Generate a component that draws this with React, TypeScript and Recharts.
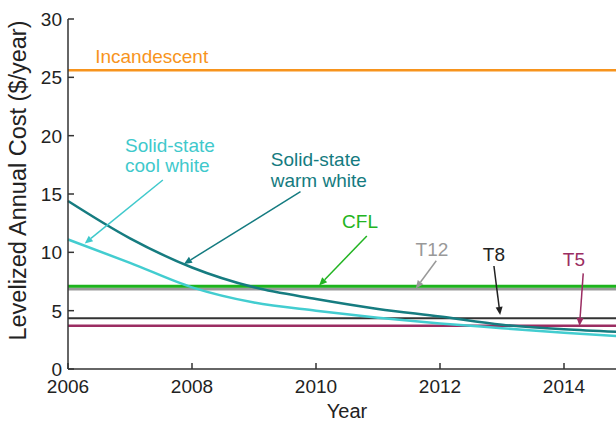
import { LineChart, Line, XAxis, YAxis, ReferenceLine, ReferenceDot } from 'recharts';

const years = [2006, 2007, 2008, 2009, 2010, 2011, 2012, 2013, 2014, 2015];
const incandescent = [25.6, 25.6, 25.6, 25.6, 25.6, 25.6, 25.6, 25.6, 25.6, 25.6];
const cfl = [7.1, 7.1, 7.1, 7.1, 7.1, 7.1, 7.1, 7.1, 7.1, 7.1];
const t12 = [6.85, 6.85, 6.85, 6.85, 6.85, 6.85, 6.85, 6.85, 6.85, 6.85];
const t8 = [4.35, 4.35, 4.35, 4.35, 4.35, 4.35, 4.35, 4.35, 4.35, 4.35];
const t5 = [3.7, 3.7, 3.7, 3.7, 3.7, 3.7, 3.7, 3.7, 3.7, 3.7];
const warmWhite = [14.4, 11.2, 8.7, 7.0, 6.0, 5.15, 4.5, 3.8, 3.4, 3.15];
const coolWhite = [11.1, 9.1, 7.0, 5.7, 5.0, 4.4, 3.9, 3.5, 3.1, 2.78];

const xTicks = [2006, 2008, 2010, 2012, 2014];
const yTicks = [0, 5, 10, 15, 20, 25, 30];

// annotation labels and arrows, in data coordinates
const labels = [
  { lines: ['Incandescent'], x: 2007.35, y: 26.83, color: '#F7941D', anchor: 'middle' },
  { lines: ['Solid-state', 'cool white'], x: 2006.92, y: 19.2, color: '#3FC9CC', anchor: 'start' },
  { lines: ['Solid-state', 'warm white'], x: 2009.27, y: 17.96, color: '#147B80', anchor: 'start' },
  { lines: ['CFL'], x: 2010.71, y: 12.64, color: '#22B422', anchor: 'middle' },
  { lines: ['T12'], x: 2011.87, y: 10.29, color: '#999999', anchor: 'middle' },
  { lines: ['T8'], x: 2012.87, y: 9.86, color: '#222222', anchor: 'middle' },
  { lines: ['T5'], x: 2014.16, y: 9.43, color: '#9B2D62', anchor: 'middle' },
];

const arrows = [
  { from: [2007.53, 16.2], to: [2006.27, 10.76], color: '#3FC9CC' },
  { from: [2009.75, 15.2], to: [2007.87, 9.0], color: '#147B80' },
  { from: [2010.82, 11.4], to: [2010.05, 7.16], color: '#22B422' },
  { from: [2011.94, 9.28], to: [2011.61, 6.9], color: '#999999' },
  { from: [2012.87, 8.83], to: [2012.97, 4.63], color: '#222222' },
  { from: [2014.31, 8.2], to: [2014.25, 3.69], color: '#9B2D62' },
];

const data = years.map((year, i) => ({
  year,
  incandescent: incandescent[i],
  cfl: cfl[i],
  t12: t12[i],
  t8: t8[i],
  t5: t5[i],
  warmWhite: warmWhite[i],
  coolWhite: coolWhite[i],
}));

const FONT = '"Liberation Sans", Arial, Helvetica, sans-serif';
const AXIS = '#333333';

const XTick = ({ x, y, payload }: any) => (
  <g>
    <line x1={x} y1={y} x2={x} y2={y - 6} stroke={AXIS} strokeWidth={1.5} />
    <text x={x} y={y + 24} textAnchor="middle" fontSize={19} fill="#222" fontFamily={FONT}>
      {payload.value}
    </text>
  </g>
);

const YTick = ({ x, y, payload }: any) => (
  <g>
    <line x1={x} y1={y} x2={x + 6} y2={y} stroke={AXIS} strokeWidth={1.5} />
    <text x={x - 6} y={y} dy="0.36em" textAnchor="end" fontSize={19} fill="#222" fontFamily={FONT}>
      {payload.value}
    </text>
  </g>
);

const YLabel = ({ viewBox }: any) => {
  const cx = viewBox.x + 18;
  const cy = viewBox.y + viewBox.height / 2 - 13.5;
  return (
    <text
      x={cx}
      y={cy}
      dy="0.36em"
      transform={`rotate(-90 ${cx} ${cy})`}
      textAnchor="middle"
      fontSize={23.5}
      fill="#222"
      fontFamily={FONT}
    >
      Levelized Annual Cost ($/year)
    </text>
  );
};

const ArrowShape = ({ x1, y1, x2, y2, color }: any) => {
  const ang = Math.atan2(y2 - y1, x2 - x1);
  const len = 8;
  const half = 3.5;
  const bx = x2 - len * Math.cos(ang);
  const by = y2 - len * Math.sin(ang);
  const px = -Math.sin(ang) * half;
  const py = Math.cos(ang) * half;
  return (
    <g>
      <line x1={x1} y1={y1} x2={bx} y2={by} stroke={color} strokeWidth={1.5} />
      <polygon points={`${x2},${y2} ${bx + px},${by + py} ${bx - px},${by - py}`} fill={color} />
    </g>
  );
};

const LabelShape = ({ cx, cy, lines, color, anchor }: any) => (
  <text x={cx} y={cy} textAnchor={anchor} fontSize={19} fill={color} fontFamily={FONT}>
    {lines.map((l: string, i: number) => (
      <tspan key={l} x={cx} dy={i === 0 ? '0.36em' : 20.5}>
        {l}
      </tspan>
    ))}
  </text>
);

export default function App() {
  return (
    <div
      style={{
        position: 'fixed',
        left: 0,
        top: 0,
        width: 616,
        height: 421,
        overflow: 'hidden',
        background: '#fff',
      }}
    >
      <LineChart width={626} height={421} data={data} margin={{ top: 19, right: 0, left: 0, bottom: 0 }}>
        <XAxis
          dataKey="year"
          type="number"
          domain={[2006, 2015]}
          ticks={xTicks}
          tick={<XTick />}
          tickLine={false}
          tickSize={0}
          tickMargin={0}
          height={52}
          stroke={AXIS}
          strokeWidth={1.5}
          interval={0}
          label={{ value: 'Year', position: 'insideBottom', offset: 3, fontSize: 20, fill: '#222', fontFamily: FONT }}
        />
        <YAxis
          type="number"
          domain={[0, 30]}
          ticks={yTicks}
          tick={<YTick />}
          tickLine={false}
          tickSize={0}
          tickMargin={0}
          width={68}
          stroke={AXIS}
          strokeWidth={1.5}
          interval={0}
          label={<YLabel />}
        />
        <Line dataKey="incandescent" stroke="#F7941D" strokeWidth={2.5} dot={false} isAnimationActive={false} />
        <Line dataKey="t12" stroke="#999999" strokeWidth={3} dot={false} isAnimationActive={false} />
        <Line dataKey="cfl" stroke="#1DB41D" strokeWidth={3} dot={false} isAnimationActive={false} />
        <Line dataKey="t8" stroke="#333333" strokeWidth={2} dot={false} isAnimationActive={false} />
        <Line dataKey="t5" stroke="#9B2D62" strokeWidth={2.5} dot={false} isAnimationActive={false} />
        <Line type="monotone" dataKey="coolWhite" stroke="#43CDD0" strokeWidth={2.5} dot={false} isAnimationActive={false} />
        <Line type="monotone" dataKey="warmWhite" stroke="#167C80" strokeWidth={2.5} dot={false} isAnimationActive={false} />
        {arrows.map((a, i) => (
          <ReferenceLine
            key={`arrow-${i}`}
            segment={[
              { x: a.from[0], y: a.from[1] },
              { x: a.to[0], y: a.to[1] },
            ]}
            stroke={a.color}
            shape={(p: any) => <ArrowShape {...p} color={a.color} />}
          />
        ))}
        {labels.map((l, i) => (
          <ReferenceDot
            key={`label-${i}`}
            x={l.x}
            y={l.y}
            r={0}
            shape={(p: any) => <LabelShape cx={p.cx} cy={p.cy} lines={l.lines} color={l.color} anchor={l.anchor} />}
          />
        ))}
      </LineChart>
    </div>
  );
}
